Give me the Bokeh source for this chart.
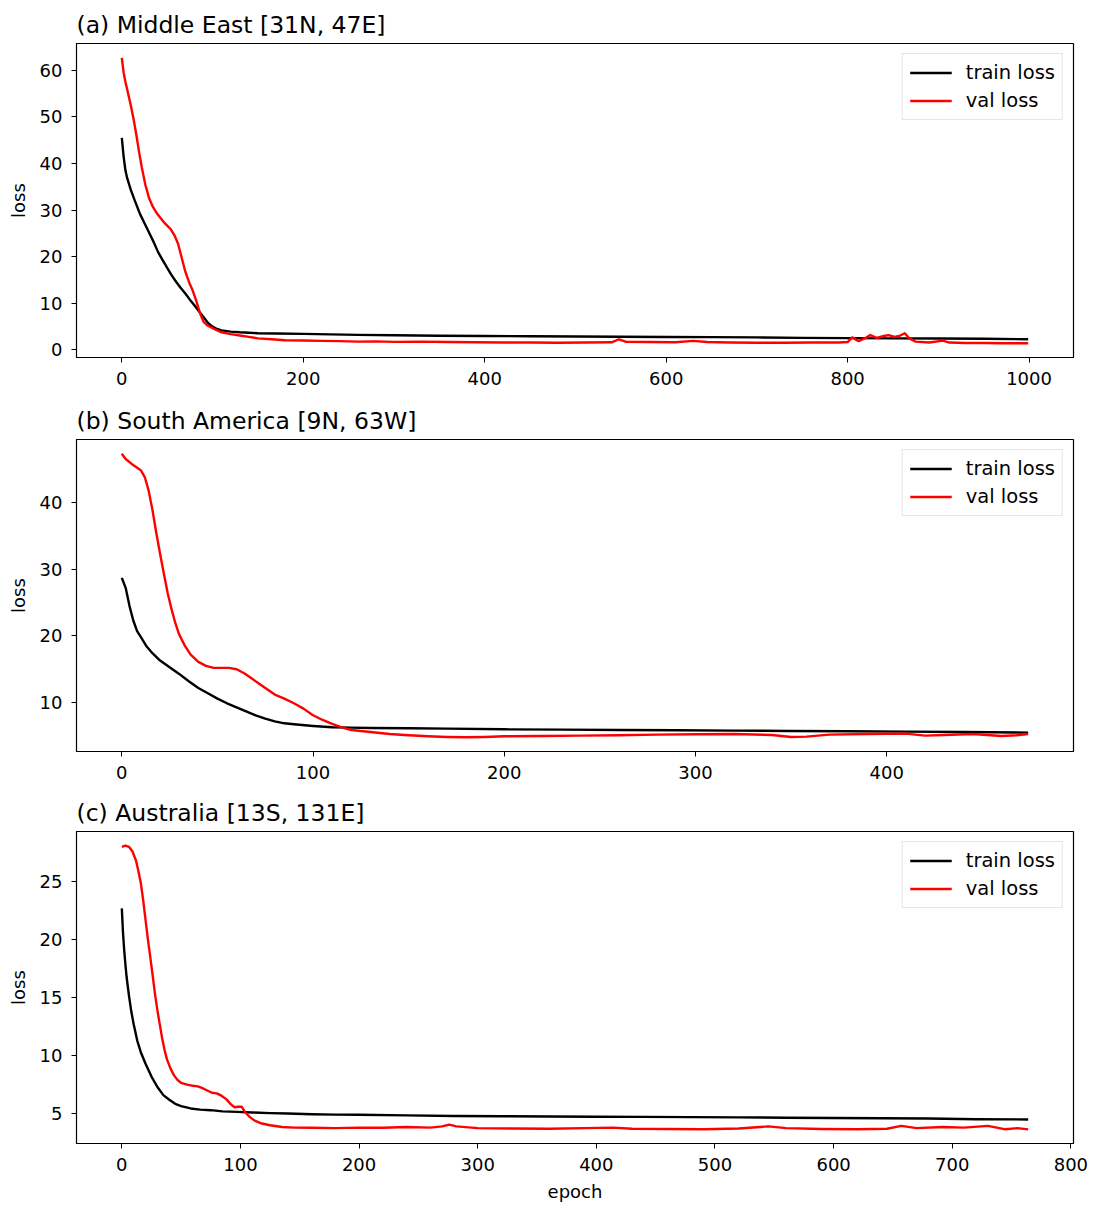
from bokeh.plotting import figure
from bokeh.layouts import column
from bokeh.models import Range1d, FixedTicker
from bokeh.embed import file_html
from bokeh.resources import INLINE

# ---------------- data ----------------
# (a) Middle East
a_train_epoch = [0, 2, 4, 6, 10, 14, 20, 25, 30, 35, 40, 45, 50, 55, 60, 65, 70, 75, 80, 85,
                 90, 95, 100, 105, 110, 120, 130, 140, 150, 170, 200, 230, 260, 300, 350, 400,
                 450, 500, 550, 600, 650, 700, 750, 800, 850, 900, 950, 999]
a_train_loss = [45.5, 41.5, 38.5, 36.8, 34.3, 32.2, 29.2, 27.2, 25.2, 23.2, 21.0, 19.3, 17.6, 16.0,
                14.6, 13.3, 12.1, 10.8, 9.6, 8.3, 7.1, 5.8, 5.0, 4.5, 4.2, 3.95, 3.8, 3.7, 3.6,
                3.55, 3.45, 3.35, 3.25, 3.15, 3.05, 3.0, 2.95, 2.9, 2.85, 2.8, 2.75, 2.7, 2.6,
                2.55, 2.5, 2.45, 2.4, 2.3]
a_val_epoch = [0, 2, 4, 7, 10, 13, 16, 19, 22, 26, 30, 34, 38, 42, 46, 50, 54, 58, 62, 66, 70, 74,
               78, 82, 86, 90, 94, 98, 104, 110, 120, 130, 140, 150, 165, 180, 200, 220, 240, 260,
               280, 300, 330, 360, 390, 420, 450, 480, 510, 540, 548, 556, 580, 610, 630, 645, 670,
               700, 730, 760, 790, 800, 805, 812, 820, 825, 832, 840, 845, 852, 858, 863, 868, 875,
               890, 905, 912, 930, 950, 970, 999]
a_val_loss = [62.7, 59.5, 57.5, 55.0, 52.4, 49.5, 46.2, 42.5, 39.2, 35.4, 32.6, 30.8, 29.5, 28.5,
              27.5, 26.7, 25.9, 24.6, 22.8, 19.8, 16.8, 14.6, 12.8, 10.6, 8.0, 6.1, 5.3, 4.9, 4.3,
              3.8, 3.4, 3.1, 2.8, 2.5, 2.3, 2.1, 2.05, 1.95, 1.9, 1.8, 1.85, 1.75, 1.8, 1.7, 1.65,
              1.6, 1.6, 1.55, 1.6, 1.65, 2.3, 1.75, 1.7, 1.65, 1.95, 1.7, 1.6, 1.55, 1.55, 1.6, 1.6,
              1.7, 2.7, 1.9, 2.6, 3.2, 2.6, 3.0, 3.2, 2.8, 3.1, 3.6, 2.5, 1.8, 1.6, 2.0, 1.6, 1.5,
              1.5, 1.45, 1.45]

# (b) South America
b_train_epoch = [0, 2, 4, 6, 8, 10, 13, 16, 20, 25, 30, 35, 40, 45, 50, 55, 60, 65, 70, 75, 80, 85,
                 90, 100, 110, 120, 130, 150, 170, 200, 230, 260, 290, 320, 350, 380, 410, 440, 474]
b_train_loss = [28.7, 27.2, 24.5, 22.3, 20.7, 19.8, 18.4, 17.4, 16.3, 15.3, 14.3, 13.2, 12.2, 11.4,
                10.6, 9.9, 9.3, 8.7, 8.1, 7.6, 7.2, 6.9, 6.75, 6.5, 6.3, 6.25, 6.2, 6.15, 6.1, 6.0,
                5.95, 5.9, 5.85, 5.8, 5.75, 5.7, 5.65, 5.6, 5.5]
b_val_epoch = [0, 2, 5, 8, 10, 12, 14, 16, 18, 20, 22, 24, 26, 28, 30, 33, 36, 40, 44, 48, 52, 56,
               60, 64, 68, 72, 76, 80, 85, 90, 95, 100, 105, 110, 115, 120, 130, 140, 150, 160,
               170, 180, 190, 200, 220, 240, 260, 280, 300, 320, 340, 350, 358, 370, 390, 410,
               420, 430, 445, 460, 468, 474]
b_val_loss = [47.3, 46.5, 45.8, 45.2, 44.8, 43.8, 41.8, 38.9, 35.5, 32.3, 29.3, 26.4, 24.0, 21.9,
              20.2, 18.5, 17.2, 16.1, 15.5, 15.2, 15.2, 15.2, 15.0, 14.4, 13.6, 12.8, 12.0, 11.2,
              10.6, 9.9, 9.1, 8.1, 7.4, 6.8, 6.3, 5.9, 5.6, 5.3, 5.1, 4.95, 4.85, 4.8, 4.85, 4.95,
              5.0, 5.05, 5.1, 5.2, 5.25, 5.3, 5.15, 4.85, 4.9, 5.2, 5.3, 5.35, 5.05, 5.15, 5.3,
              5.0, 5.1, 5.3]

# (c) Australia
c_train_epoch = [0, 1, 2, 3, 4, 6, 8, 10, 13, 16, 20, 25, 30, 35, 40, 45, 50, 58, 66, 75, 85, 97,
                 110, 125, 140, 160, 180, 200, 240, 280, 320, 360, 400, 440, 480, 520, 560, 600,
                 640, 680, 720, 764]
c_train_loss = [22.7, 20.6, 19.1, 17.9, 16.8, 15.2, 13.8, 12.7, 11.3, 10.3, 9.3, 8.2, 7.3, 6.6, 6.2,
                5.85, 5.65, 5.45, 5.35, 5.3, 5.2, 5.15, 5.1, 5.05, 5.02, 4.95, 4.92, 4.9, 4.85,
                4.8, 4.78, 4.75, 4.73, 4.72, 4.7, 4.68, 4.65, 4.62, 4.6, 4.58, 4.52, 4.5]
c_val_epoch = [0, 3, 6, 9, 12, 14, 16, 18, 20, 22, 24, 26, 28, 30, 32, 34, 36, 38, 41, 44, 47, 50,
               55, 60, 64, 68, 72, 76, 80, 84, 88, 92, 95, 98, 101, 104, 108, 112, 118, 125, 135,
               145, 160, 180, 200, 220, 240, 260, 270, 276, 282, 300, 330, 360, 390, 414, 430,
               460, 490, 520, 545, 560, 590, 620, 645, 657, 670, 692, 710, 730, 745, 755, 764]
c_val_loss = [28.0, 28.1, 28.0, 27.6, 26.8, 25.9, 24.9, 23.4, 21.7, 20.0, 18.5, 16.9, 15.3, 13.9,
              12.7, 11.5, 10.5, 9.7, 8.9, 8.3, 7.9, 7.65, 7.5, 7.4, 7.35, 7.2, 7.0, 6.8, 6.75,
              6.55, 6.25, 5.8, 5.55, 5.6, 5.6, 5.1, 4.7, 4.4, 4.15, 4.0, 3.85, 3.8, 3.78, 3.75,
              3.8, 3.78, 3.85, 3.8, 3.9, 4.05, 3.9, 3.75, 3.72, 3.7, 3.75, 3.8, 3.7, 3.68, 3.65,
              3.72, 3.9, 3.75, 3.68, 3.65, 3.7, 3.95, 3.75, 3.85, 3.8, 3.95, 3.65, 3.75, 3.65]

titles = ["(a) Middle East [31N, 47E]", "(b) South America [9N, 63W]", "(c) Australia [13S, 131E]"]
a_xticks = [0, 200, 400, 600, 800, 1000]
a_yticks = [0, 10, 20, 30, 40, 50, 60]
b_xticks = [0, 100, 200, 300, 400]
b_yticks = [10, 20, 30, 40]
c_xticks = [0, 100, 200, 300, 400, 500, 600, 700, 800]
c_yticks = [5, 10, 15, 20, 25]

FONT = "DejaVu Sans"


def pad(lo, hi, frac=0.05):
    span = hi - lo
    return lo - frac * span, hi + frac * span


def panel(title, te, tl, ve, vl, xticks, yticks, height, top, bottom, xlabel=None):
    xr = pad(min(te + ve), max(te + ve))
    yr = pad(min(tl + vl), max(tl + vl))
    p = figure(width=1088, height=height, x_range=Range1d(*xr), y_range=Range1d(*yr),
               output_backend="svg", toolbar_location=None, title=title,
               min_border_left=76, min_border_right=15, min_border_top=top,
               min_border_bottom=bottom, background_fill_color="white",
               border_fill_color="white")
    p.line(te, tl, line_color="black", line_width=2.4, line_join="round",
           legend_label="train loss")
    p.line(ve, vl, line_color="red", line_width=2.4, line_join="round",
           legend_label="val loss")

    p.grid.visible = False
    p.outline_line_color = "black"
    p.outline_line_width = 1.2

    p.title.text_font = FONT
    p.title.text_font_size = "23.5px"
    p.title.text_font_style = "normal"
    p.title.text_color = "black"
    p.title.align = "left"
    p.title.standoff = 10

    p.xaxis.ticker = FixedTicker(ticks=xticks)
    p.yaxis.ticker = FixedTicker(ticks=yticks)
    for ax in (p.xaxis[0], p.yaxis[0]):
        ax.major_label_text_font = FONT
        ax.major_label_text_font_size = "18px"
        ax.major_label_text_color = "black"
        ax.axis_line_color = "black"
        ax.major_tick_line_color = "black"
        ax.major_tick_out = 5
        ax.major_tick_in = 0
        ax.minor_tick_line_color = None
        ax.axis_label_text_font = FONT
        ax.axis_label_text_font_size = "18px"
        ax.axis_label_text_font_style = "normal"
        ax.axis_label_text_color = "black"
    p.xaxis.major_label_standoff = 9
    p.yaxis.major_label_standoff = 9
    p.yaxis.axis_label = "loss"
    p.yaxis.axis_label_standoff = 8
    if xlabel:
        p.xaxis.axis_label = xlabel
        p.xaxis.axis_label_standoff = 7

    lg = p.legend[0]
    lg.location = "top_right"
    lg.margin = 10
    lg.padding = 7
    lg.spacing = 5
    lg.label_text_font = FONT
    lg.label_text_font_size = "19.5px"
    lg.label_text_color = "black"
    lg.label_standoff = 14
    lg.glyph_width = 42
    lg.glyph_height = 21
    lg.label_height = 21
    lg.border_line_color = "#cccccc"
    lg.border_line_width = 1.2
    lg.background_fill_alpha = 0.8
    return p


pa = panel(titles[0], a_train_epoch, a_train_loss, a_val_epoch, a_val_loss,
           a_xticks, a_yticks, 399, 43, 42)
pb = panel(titles[1], b_train_epoch, b_train_loss, b_val_epoch, b_val_loss,
           b_xticks, b_yticks, 392, 38, 40)
pc = panel(titles[2], c_train_epoch, c_train_loss, c_val_epoch, c_val_loss,
           c_xticks, c_yticks, 413, 38, 61, xlabel="epoch")

layout = column(pa, pb, pc, spacing=0)
open("out.html", "w").write(file_html(layout, INLINE))
